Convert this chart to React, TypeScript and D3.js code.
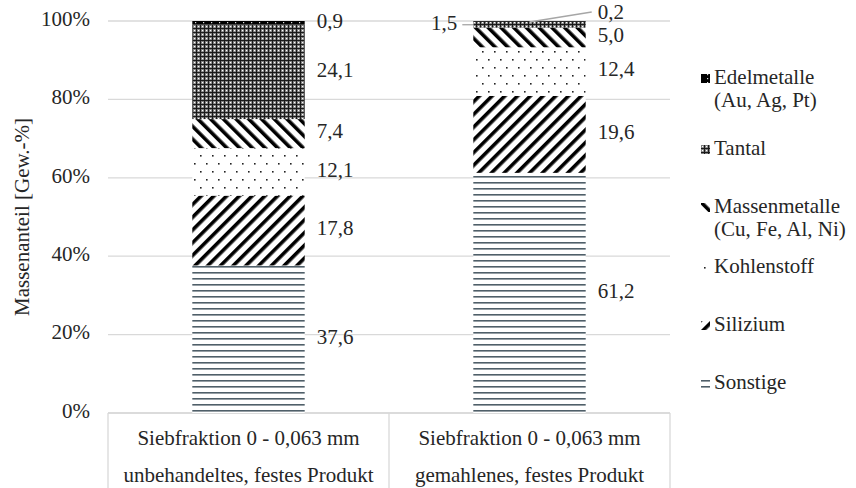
import React from "react";
import * as d3 from "d3";

const categories = ["c1", "c2"];
const categoryLine1 = ["Siebfraktion 0 - 0,063 mm", "Siebfraktion 0 - 0,063 mm"];
const categoryLine2 = ["unbehandeltes, festes Produkt", "gemahlenes, festes Produkt"];
const seriesKeys = ["Sonstige", "Silizium", "Kohlenstoff", "Massenmetalle", "Tantal", "Edelmetalle"];
const legendLines = [
  ["Edelmetalle", "(Au, Ag, Pt)"],
  ["Tantal"],
  ["Massenmetalle", "(Cu, Fe, Al, Ni)"],
  ["Kohlenstoff"],
  ["Silizium"],
  ["Sonstige"],
];
const legendKeys = ["Edelmetalle", "Tantal", "Massenmetalle", "Kohlenstoff", "Silizium", "Sonstige"];
const sonstige = [37.6, 61.2];
const silizium = [17.8, 19.6];
const kohlenstoff = [12.1, 12.4];
const massenmetalle = [7.4, 5.0];
const tantal = [24.1, 1.5];
const edelmetalle = [0.9, 0.2];
const yTicks = [0, 0.2, 0.4, 0.6, 0.8, 1.0];

const W = 856, H = 488;
const L = 108, R = 670, T = 21, B = 413;
const FONT = "Liberation Serif";
const TXT = "#262626";
const GRID = "#d9d9d9";
const FS = 21;

export default function App() {
  const rows = categories.map((c, i) => ({
    cat: c,
    Sonstige: sonstige[i],
    Silizium: silizium[i],
    Kohlenstoff: kohlenstoff[i],
    Massenmetalle: massenmetalle[i],
    Tantal: tantal[i],
    Edelmetalle: edelmetalle[i],
  }));
  const stack = d3.stack<any>().keys(seriesKeys).offset(d3.stackOffsetExpand);
  const series = stack(rows);
  const x = d3.scaleBand().domain(categories).range([L, R]).paddingInner(0.6).paddingOuter(0.3);
  const step = x.step();
  const y = d3.scaleLinear().domain([0, 1]).range([B, T]);
  const fmt = (v: number) => v.toFixed(1).replace(".", ",");

  const labels: any[] = [];
  series.forEach((s) => {
    s.forEach((d, i) => {
      const key = s.key;
      const val = (rows[i] as any)[key];
      const x0 = x(categories[i])!;
      const x1 = x0 + x.bandwidth();
      const cy = (y(d[0]) + y(d[1])) / 2;
      if (i === 1 && key === "Tantal") {
        labels.push({ t: fmt(val), x: x0 - 16, y: cy, anchor: "end", line: [x0 - 11, cy, x0, cy] });
      } else if (i === 1 && key === "Edelmetalle") {
        labels.push({ t: fmt(val), x: x1 + 12, y: 14, anchor: "start", line: [(x0 + x1) / 2, y(d[1]) + 1, x1 + 6, 12] });
      } else {
        labels.push({ t: fmt(val), x: x1 + 12, y: cy, anchor: "start" });
      }
    });
  });

  const legendY = [79, 150, 208, 268, 326, 384];
  const ts = { fontFamily: FONT, fontSize: FS, fill: TXT } as React.CSSProperties;

  return (
    <svg width={W} height={H} style={{ position: "absolute", left: 0, top: 0, background: "#fff" }}>
      <defs>
        <pattern id="p-Sonstige" width="8" height="6" patternUnits="userSpaceOnUse">
          <rect width="8" height="6" fill="#fff" />
          <rect y="2" width="8" height="1.6" fill="#4f5f69" />
        </pattern>
        <pattern id="p-Silizium" width="9" height="9" patternUnits="userSpaceOnUse" patternTransform="rotate(45)">
          <rect width="9" height="9" fill="#fff" />
          <rect width="3.6" height="9" fill="#000" />
        </pattern>
        <pattern id="p-Massenmetalle" width="9" height="9" patternUnits="userSpaceOnUse" patternTransform="rotate(-45)">
          <rect width="9" height="9" fill="#fff" />
          <rect width="3.6" height="9" fill="#000" />
        </pattern>
        <pattern id="p-Kohlenstoff" width="12" height="16" patternUnits="userSpaceOnUse">
          <rect width="12" height="16" fill="#fff" />
          <rect x="2" y="3" width="1.6" height="1.6" fill="#222" />
          <rect x="8" y="11" width="1.6" height="1.6" fill="#222" />
        </pattern>
        <pattern id="p-Tantal" width="4" height="4" patternUnits="userSpaceOnUse">
          <rect width="4" height="4" fill="#808080" />
          <rect x="0" y="0" width="1" height="4" fill="#1a1a1a" />
          <rect x="0" y="0" width="4" height="1" fill="#1a1a1a" />
          <rect x="2" y="2" width="1.2" height="1.2" fill="#fff" />
        </pattern>
        <pattern id="p-Edelmetalle" width="8" height="4" patternUnits="userSpaceOnUse">
          <rect width="8" height="4" fill="#000" />
          <rect x="3" y="2" width="1.2" height="1.2" fill="#ddd" />
        </pattern>
      </defs>

      {yTicks.map((t) => (
        <line key={t} x1={L} x2={R} y1={y(t)} y2={y(t)} stroke={GRID} strokeWidth={1.3} />
      ))}
      <line x1={L} x2={R} y1={B} y2={B} stroke={GRID} strokeWidth={1.3} />
      {[L, L + step, R].map((xx, i) => (
        <line key={i} x1={xx} x2={xx} y1={B} y2={H} stroke={GRID} strokeWidth={1.3} />
      ))}

      {series.map((s) => (
        <g key={s.key} fill={`url(#p-${s.key})`}>
          {s.map((d, i) => (
            <rect key={i} x={x(categories[i])} width={x.bandwidth()} y={y(d[1])} height={Math.max(0, y(d[0]) - y(d[1]))} />
          ))}
        </g>
      ))}

      {yTicks.map((t) => (
        <text key={t} x={90} y={y(t)} textAnchor="end" dominantBaseline="middle" style={ts}>
          {d3.format(".0%")(t)}
        </text>
      ))}
      <text transform={`translate(24,${(T + B) / 2}) rotate(-90)`} textAnchor="middle" dominantBaseline="middle" style={ts}>
        Massenanteil [Gew.-%]
      </text>

      {categories.map((c, i) => (
        <g key={c}>
          <text x={x(c)! + x.bandwidth() / 2} y={440} textAnchor="middle" dominantBaseline="middle" style={ts}>
            {categoryLine1[i]}
          </text>
          <text x={x(c)! + x.bandwidth() / 2} y={477} textAnchor="middle" dominantBaseline="middle" style={ts}>
            {categoryLine2[i]}
          </text>
        </g>
      ))}

      {labels.map((l, i) => (
        <g key={i}>
          {l.line && <line x1={l.line[0]} y1={l.line[1]} x2={l.line[2]} y2={l.line[3]} stroke="#a6a6a6" strokeWidth={1.3} />}
          <text x={l.x} y={l.y} textAnchor={l.anchor} dominantBaseline="middle" style={ts}>
            {l.t}
          </text>
        </g>
      ))}

      {legendKeys.map((k, i) => (
        <g key={k}>
          <rect x={701} y={legendY[i] - 5} width={9} height={9} fill={`url(#p-${k})`} />
          {legendLines[i].map((ln, j) => (
            <text key={j} x={714} y={legendY[i] + j * 23} dominantBaseline="middle" style={ts}>
              {ln}
            </text>
          ))}
        </g>
      ))}
    </svg>
  );
}
